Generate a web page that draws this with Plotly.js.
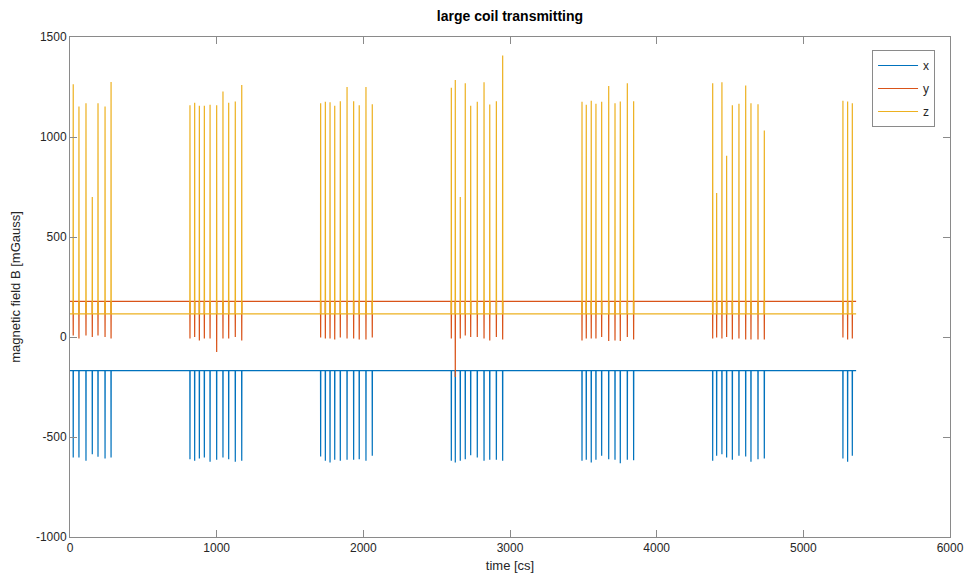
<!DOCTYPE html>
<html>
<head>
<meta charset="utf-8">
<script src="https://cdn.plot.ly/plotly-3.0.1.min.js"></script>
<style>html,body{margin:0;padding:0;background:#fff;}#chart{width:964px;height:581px;}</style>
</head>
<body>
<div id="chart"></div>
<script>
// time of each pulse [cs]
const spikeTimes = [
  22, 61, 109, 152, 191, 239, 280,
  818, 850, 882, 916, 955, 1000, 1043, 1082, 1127, 1171,
  1709, 1741, 1773, 1805, 1843, 1889, 1934, 1972, 2018, 2061,
  2600, 2627, 2661, 2695, 2732, 2777, 2823, 2862, 2907, 2950,
  3491, 3520, 3554, 3586, 3625, 3673, 3716, 3752, 3800, 3843,
  4382, 4409, 4445, 4477, 4516, 4561, 4607, 4643, 4691, 4734,
  5270, 5302, 5334
];
// pulse peak values [mGauss]
const xPeaks = [
  -602, -602, -619, -586, -599, -607, -602,
  -611, -619, -607, -602, -624, -614, -602, -611, -624, -619,
  -597, -619, -627, -614, -619, -614, -614, -611, -619, -594,
  -619, -627, -619, -611, -591, -602, -619, -614, -614, -619,
  -619, -614, -627, -614, -594, -611, -614, -631, -614, -616,
  -619, -594, -586, -602, -614, -594, -597, -624, -611, -607,
  -607, -624, -594
];
const yPeaks = [
  8, -8, 8, 0, 8, 0, -8,
  -8, 0, -17, -8, -8, -75, -8, -8, 0, -17,
  -3, -8, -8, -12, -3, -8, -8, -12, -12, -3,
  -8, -200, -8, 8, 0, 0, -8, -17, 0, -12,
  -17, -8, -8, -8, 0, -20, -17, -20, 0, -12,
  -8, -3, -8, 0, -12, -8, -12, -12, -12, -12,
  -3, -12, -8
];
const zPeaks = [
  1264, 1152, 1169, 700, 1169, 1152, 1275,
  1159, 1171, 1156, 1156, 1161, 1159, 1227, 1171, 1177, 1260,
  1169, 1176, 1174, 1156, 1179, 1250, 1179, 1159, 1250, 1164,
  1246, 1285, 700, 1269, 1156, 1176, 1274, 1162, 1179, 1407,
  1176, 1161, 1181, 1166, 1176, 1255, 1169, 1177, 1269, 1179,
  1269, 720, 1274, 906, 1159, 1166, 1257, 1169, 1164, 1032,
  1181, 1177, 1169
];
// quiet-level of each component
const xBase = -168;
const yBase = 178;
const zBase = 116;
const tStart = 0;
const tEnd = 5360;
const seriesNames = ['x', 'y', 'z'];
const seriesColors = ['#0072BD', '#D95319', '#EDB120'];
const xTickVals = [0, 1000, 2000, 3000, 4000, 5000, 6000];
const yTickVals = [-1000, -500, 0, 500, 1000, 1500];
const yTickText = ['-1000', '-500', '0', '500', '1000', '1500'];

function buildTrace(base, peaks, name, color) {
  const xs = [tStart], ys = [base];
  for (let i = 0; i < spikeTimes.length; i++) {
    const t = spikeTimes[i];
    xs.push(t - 1, t, t + 1);
    ys.push(base, peaks[i], base);
  }
  xs.push(tEnd); ys.push(base);
  return {
    x: xs, y: ys, type: 'scatter', mode: 'lines', name: name,
    legendgroup: name,
    line: {color: color, width: 1.2}
  };
}

const traces = [
  buildTrace(xBase, xPeaks, seriesNames[0], seriesColors[0]),
  buildTrace(yBase, yPeaks, seriesNames[1], seriesColors[1]),
  buildTrace(zBase, zPeaks, seriesNames[2], seriesColors[2])
];

const axisCommon = {
  showgrid: false, zeroline: false,
  showline: true, linecolor: '#8a8a8a', linewidth: 1,
  mirror: 'ticks', ticks: 'inside', ticklen: 7, tickcolor: '#8a8a8a',
  tickfont: {family: 'Liberation Sans, Arial, sans-serif', size: 12, color: '#262626'}
};

const layout = {
  width: 964, height: 581,
  margin: {l: 70, r: 14, t: 37, b: 44},
  paper_bgcolor: '#fff', plot_bgcolor: '#fff',
  font: {family: 'Liberation Sans, Arial, sans-serif', color: '#262626'},
  title: {text: '<b>large coil transmitting</b>', font: {size: 14, color: '#000'},
          x: 0.529, xanchor: 'center', y: 0.972, yanchor: 'middle'},
  xaxis: Object.assign({}, axisCommon, {
    range: [0, 6000], tickvals: xTickVals,
    title: {text: 'time [cs]', font: {size: 13, color: '#262626'}, standoff: 6}
  }),
  yaxis: Object.assign({}, axisCommon, {
    range: [-1000, 1500], tickvals: yTickVals, ticktext: yTickText,
    title: {text: 'magnetic field B [mGauss]', font: {size: 13, color: '#262626'}, standoff: 12}
  }),
  showlegend: true,
  legend: {
    x: 0.983, xanchor: 'right', y: 0.974, yanchor: 'top',
    bgcolor: '#fff', bordercolor: '#8a8a8a', borderwidth: 1,
    tracegroupgap: 4, itemwidth: 40,
    font: {size: 12, color: '#262626'}
  }
};

Plotly.newPlot('chart', traces, layout, {displayModeBar: false, staticPlot: true});
</script>
</body>
</html>
